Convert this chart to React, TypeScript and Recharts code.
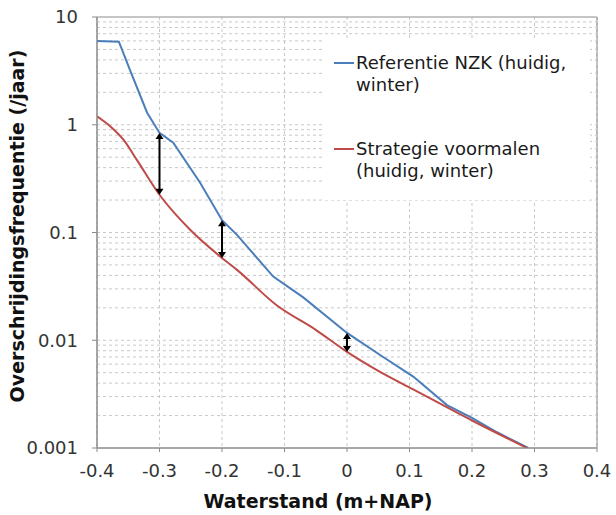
import React from 'react';
import {
  LineChart,
  Line,
  XAxis,
  YAxis,
  CartesianGrid,
  ReferenceLine,
  ReferenceArea,
  Legend,
} from 'recharts';

// Referentie NZK (huidig, winter)
const blueX = [-0.4, -0.365, -0.347, -0.32, -0.3, -0.278, -0.235, -0.2, -0.176, -0.118, -0.07, 0, 0.056, 0.106, 0.16, 0.2, 0.24, 0.29];
const blueY = [6.0, 5.9, 3.2, 1.3, 0.84, 0.68, 0.29, 0.13, 0.095, 0.039, 0.025, 0.0117, 0.0071, 0.0046, 0.0025, 0.0019, 0.0014, 0.001];

// Strategie voormalen (huidig, winter)
const redX = [-0.4, -0.379, -0.358, -0.336, -0.3, -0.251, -0.2, -0.176, -0.112, -0.05, 0, 0.05, 0.106, 0.2, 0.288];
const redY = [1.2, 0.97, 0.73, 0.47, 0.224, 0.106, 0.058, 0.045, 0.021, 0.0125, 0.0078, 0.0052, 0.0035, 0.0018, 0.001];

// double arrows between the two curves
const arrowX = [-0.3, -0.2, 0];
const arrowLow = [0.224, 0.058, 0.0078];
const arrowHigh = [0.84, 0.13, 0.0117];

const xTicks = [-0.4, -0.3, -0.2, -0.1, 0, 0.1, 0.2, 0.3, 0.4];
const yTicks = [0.001, 0.01, 0.1, 1, 10];
const yMinor = [
  0.002, 0.003, 0.004, 0.005, 0.006, 0.007, 0.008, 0.009,
  0.02, 0.03, 0.04, 0.05, 0.06, 0.07, 0.08, 0.09,
  0.2, 0.3, 0.4, 0.5, 0.6, 0.7, 0.8, 0.9,
  2, 3, 4, 5, 6, 7, 8, 9,
];

const seriesNames = ['Referentie NZK (huidig,|winter)', 'Strategie voormalen|(huidig, winter)'];
const seriesColors = ['#4a7ebb', '#be4b48'];

const blueData = blueX.map((x, i) => ({ x, y: blueY[i] }));
const redData = redX.map((x, i) => ({ x, y: redY[i] }));

const FONT = '"DejaVu Sans", Verdana, sans-serif';
const GRID = '#c8c8c8';

const DoubleArrow = (props: any) => {
  const { x1, y1, x2, y2 } = props;
  const top = Math.min(y1, y2);
  const bot = Math.max(y1, y2);
  const h = 6;
  const w = 4;
  return (
    <g>
      <line x1={x1} y1={top + h - 1} x2={x2} y2={bot - h + 1} stroke="#000" strokeWidth={2} />
      <polygon points={`${x1},${top} ${x1 - w},${top + h} ${x1 + w},${top + h}`} fill="#000" />
      <polygon points={`${x1},${bot} ${x1 - w},${bot - h} ${x1 + w},${bot - h}`} fill="#000" />
    </g>
  );
};

const LegendBox = () => (
  <div style={{ background: '#fff', width: 268, height: 162, fontFamily: FONT, fontSize: 18, color: '#1a1a1a' }}>
    {seriesNames.map((name, i) => (
      <div key={name} style={{ position: 'absolute', left: 12, top: i === 0 ? 14 : 100, lineHeight: '22px' }}>
        {name.split('|').map((line, j) => (
          <div key={j} style={{ display: 'flex', alignItems: 'center' }}>
            <span style={{ display: 'inline-block', width: 20, height: 2, background: j === 0 ? seriesColors[i] : 'transparent', marginRight: 2 }} />
            <span>{line}</span>
          </div>
        ))}
      </div>
    ))}
  </div>
);

const App: React.FC = () => {
  return (
    <div style={{ position: 'absolute', left: 0, top: 0, width: 616, height: 515, background: '#fff', fontFamily: FONT }}>
      <LineChart width={616} height={515} margin={{ top: 17, right: 19, left: 0, bottom: 0 }}>
        <CartesianGrid stroke={GRID} strokeDasharray="3 3" horizontal={false} verticalValues={xTicks} />
        <XAxis
          dataKey="x"
          type="number"
          domain={[-0.4, 0.4]}
          ticks={xTicks}
          tickFormatter={(v: number) => (v === 0 ? '0' : v.toFixed(1))}
          stroke="#8a8a8a"
          tick={{ fill: '#333', fontSize: 18, fontFamily: FONT }}
          tickSize={4}
          tickMargin={12}
          height={67}
          allowDataOverflow
          label={{
            content: () => (
              <text x={318} y={508} textAnchor="middle" fontFamily={FONT} fontWeight="bold" fontSize={19} fill="#111">
                Waterstand (m+NAP)
              </text>
            ),
          }}
        />
        <YAxis
          type="number"
          scale="log"
          domain={[0.001, 10]}
          ticks={yTicks}
          tickFormatter={(v: number) => String(v)}
          stroke="#8a8a8a"
          tick={{ fill: '#333', fontSize: 18, fontFamily: FONT }}
          tickSize={5}
          tickMargin={14}
          width={97}
          allowDataOverflow
          label={{
            content: () => (
              <text
                x={24}
                y={226}
                textAnchor="middle"
                transform="rotate(-90, 24, 226)"
                fontFamily={FONT}
                fontWeight="bold"
                fontSize={19}
                fill="#111"
              >
                Overschrijdingsfrequentie (/jaar)
              </text>
            ),
          }}
        />
        {[...yMinor, ...yTicks].map((v) => (
          <ReferenceLine key={`g${v}`} y={v} stroke={GRID} strokeDasharray="3 3" />
        ))}
        <ReferenceArea x1={-0.4} x2={0.4} y1={0.001} y2={10} fill="none" stroke="#8a8a8a" strokeWidth={1} />
        <Legend
          layout="vertical"
          align="center"
          verticalAlign="middle"
          wrapperStyle={{ left: 322, top: 38, width: 268, height: 162 }}
          content={() => <LegendBox />}
        />
        <Line
          data={blueData}
          dataKey="y"
          name="Referentie NZK (huidig, winter)"
          stroke={seriesColors[0]}
          strokeWidth={2}
          dot={false}
          type="linear"
          isAnimationActive={false}
        />
        <Line
          data={redData}
          dataKey="y"
          name="Strategie voormalen (huidig, winter)"
          stroke={seriesColors[1]}
          strokeWidth={2}
          dot={false}
          type="monotone"
          isAnimationActive={false}
        />
        {arrowX.map((x, i) => (
          <ReferenceLine
            key={x}
            segment={[
              { x, y: arrowLow[i] },
              { x, y: arrowHigh[i] },
            ]}
            stroke="#000"
            shape={(p: any) => <DoubleArrow {...p} />}
          />
        ))}
      </LineChart>
    </div>
  );
};

export default App;
